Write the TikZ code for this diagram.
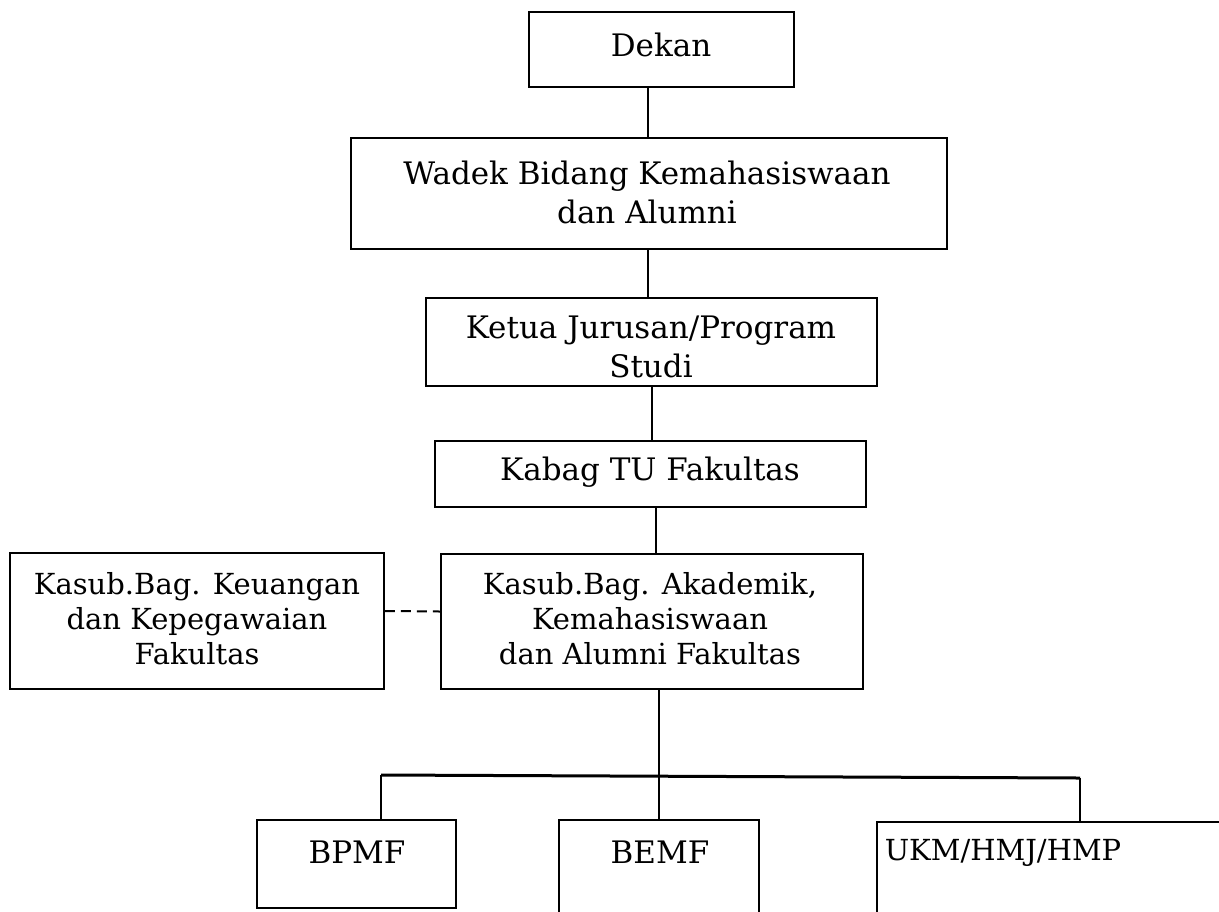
\documentclass[tikz,border=0pt]{standalone}
\usepackage{fontspec}
\setmainfont{DejaVu Serif}
\begin{document}
\begin{tikzpicture}[x=0.5pt,y=-0.5pt,
  box/.style={draw, line width=0.85pt, inner sep=0pt},
  lbl/.style={align=center, inner sep=0pt, font=\fontsize{15.5}{19.5}\selectfont},
  lbltight/.style={lbl, font=\fontsize{14.5}{17.5}\selectfont},
  link/.style={line width=0.85pt},
  bar/.style={line width=1.5pt}]
\useasboundingbox (0,0) rectangle (1219,911);

% boxes
\node[box, minimum width=132.5pt, minimum height=37.5pt] (dekan) at (661.5,49.5) {};
\node[box, minimum width=298pt, minimum height=55.5pt] (wadek) at (649,193.5) {};
\node[box, minimum width=225.5pt, minimum height=44pt] (ketua) at (651.5,342) {};
\node[box, minimum width=215.5pt, minimum height=33pt] (kabag) at (650.5,474) {};
\node[box, minimum width=187pt, minimum height=68pt] (keu) at (197,621) {};
\node[box, minimum width=211pt, minimum height=67.5pt] (akad) at (652,621.5) {};
\node[box, minimum width=99.5pt, minimum height=44pt] (bpmf) at (356.5,864) {};
\node[box, minimum width=100pt, minimum height=50pt] (bemf) at (659,870) {};
\node[box, minimum width=179pt, minimum height=51.5pt] (ukm) at (1056,873.5) {};

% labels
\node[lbl] (tdekan) at (661,45) {Dekan};
\node[lbl] (twadek) at (647,192) {Wadek Bidang Kemahasiswaan\\dan Alumni};
\node[lbl] (tketua) at (651,347) {Ketua Jurusan/Program\\Studi};
\node[lbl] (tkabag) at (650,472) {Kabag TU Fakultas};
\node[lbltight] (tkeu) at (197,619) {Kasub.Bag. Keuangan\\dan Kepegawaian\\Fakultas};
\node[lbltight] (takad) at (650,619) {Kasub.Bag. Akademik,\\Kemahasiswaan\\dan Alumni Fakultas};
\node[lbl] (tbpmf) at (357,852) {BPMF};
\node[lbl] (tbemf) at (660,852) {BEMF};
\node[lbltight] (tukm) at (1003,853) {UKM/HMJ/HMP};

% junction points of the tree
\coordinate (x1) at (648,0);
\coordinate (x2) at (652,0);
\coordinate (x3) at (656,0);
\coordinate (j) at (659,776);
\coordinate (jl) at (381,775);
\coordinate (jr) at (1080,778);

% connectors
\draw[link] (dekan.south -| x1) -- (wadek.north -| x1);
\draw[link] (wadek.south -| x1) -- (ketua.north -| x1);
\draw[link] (ketua.south -| x2) -- (kabag.north -| x2);
\draw[link] (kabag.south -| x3) -- (akad.north -| x3);
\draw[link, line width=1pt, dash pattern=on 5pt off 3pt] ([yshift=5pt]keu.east) -- ([yshift=5pt]akad.west);
\draw[link] (akad.south -| j) -- (bemf.north -| j);
\draw[bar] (jl) -- (jr);
\draw[link] (jl) -- (bpmf.north -| jl);
\draw[link] (jr) -- (ukm.north -| jr);
\end{tikzpicture}
\end{document}
